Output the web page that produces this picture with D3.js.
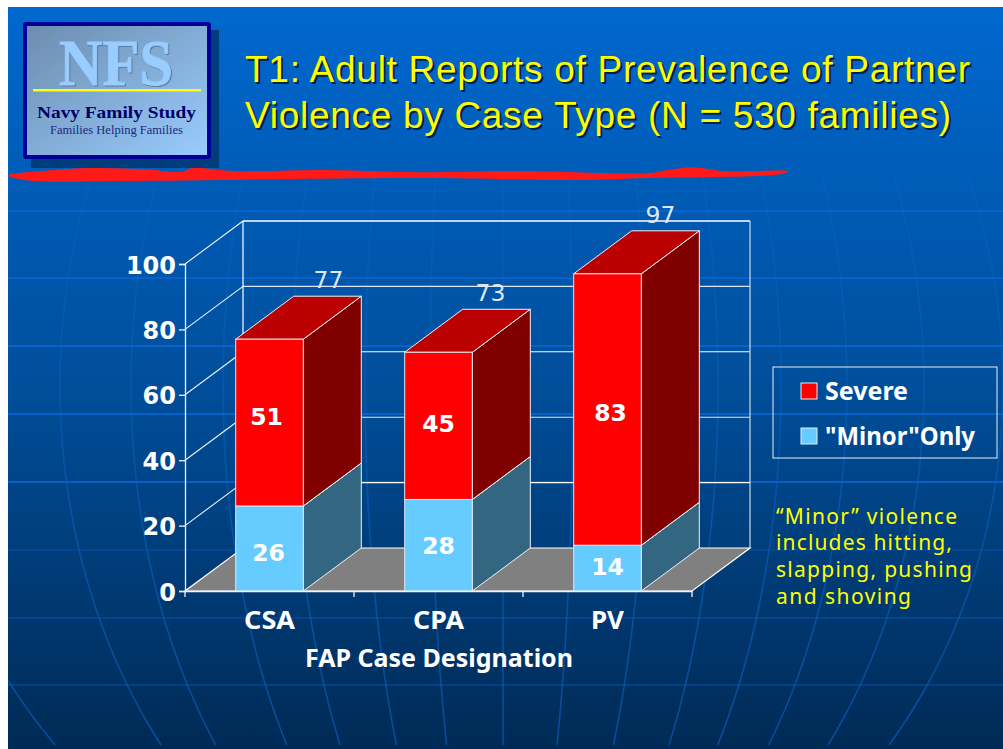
<!DOCTYPE html>
<html>
<head>
<meta charset="utf-8">
<script src="https://cdn.jsdelivr.net/npm/d3@7"></script>
<style>
html,body{margin:0;padding:0;background:#fff;overflow:hidden}
svg{display:block}
</style>
</head>
<body>
<svg id="chart" width="1003" height="749"></svg>
<script>
const categories = ["CSA", "CPA", "PV"];
const minorOnly = [26, 28, 14];
const severe = [51, 45, 83];
const totals = [77, 73, 97];
const yTicks = [0, 20, 40, 60, 80, 100];
const legendLabels = ["Severe", "\"Minor\"Only"];
const titleLines = ["T1: Adult Reports of Prevalence of Partner", "Violence by Case Type (N = 530 families)"];
const noteLines = ["\u201CMinor\u201D violence", "includes hitting,", "slapping, pushing", "and shoving"];
const xTitle = "FAP Case Designation";

// hand placement of the data labels, as in the slide
const minorNudge = [[-1,4],[0,0],[0,-2]];
const severeNudge = [[-3,-7],[0,-3],[3,2]];
const totalNudge = [1,-6,-5];

// decorative globe in the slide background
const latitudes = [211, 278, 346, 414, 482, 550, 618, 685];
const latOpacity = [0.9, 0.9, 1, 1, 1, 0.3, 0.4, 0.4];
const meridians = [-580, -443, -372, -280, -211, -138, -73, 0, 70, 143, 215, 278, 344, 421, 500];
const brushTop = [[9,174],[30,172],[88,168],[147,169.5],[182,171.7],[192,168],[233,171],[328,170],[422,172.3],[516,171],[649,173],[668,170],[693,167.3],[722,171],[789,171.3]];
const brushBottom = [[782,174],[649,178],[575,180],[427,178],[294,179],[123,181],[33,181],[9,177]];

const svg = d3.select("#chart");
const defs = svg.append("defs");

const bg = defs.append("linearGradient").attr("id","bg").attr("x1",0).attr("y1",0).attr("x2",0).attr("y2",1);
bg.append("stop").attr("offset",0).attr("stop-color","#0068cf");
bg.append("stop").attr("offset",0.5).attr("stop-color","#004f9c");
bg.append("stop").attr("offset",1).attr("stop-color","#002a55");
const lg = defs.append("linearGradient").attr("id","logo").attr("x1",0).attr("y1",0).attr("x2",1).attr("y2",1);
lg.append("stop").attr("offset",0).attr("stop-color","#6c8cad");
lg.append("stop").attr("offset",1).attr("stop-color","#99ccff");
const mg = defs.append("linearGradient").attr("id","mer").attr("gradientUnits","userSpaceOnUse")
  .attr("x1",0).attr("y1",175).attr("x2",0).attr("y2",749);
mg.append("stop").attr("offset",0).attr("stop-color","#0a6ad0").attr("stop-opacity",0.25);
mg.append("stop").attr("offset",0.6).attr("stop-color","#0a62c0").attr("stop-opacity",0.55);
mg.append("stop").attr("offset",1).attr("stop-color","#0a62c0").attr("stop-opacity",0.6);
defs.append("clipPath").attr("id","slide").append("rect").attr("x",8).attr("y",7).attr("width",995).attr("height",742);

// slide background
const back = svg.append("g").attr("clip-path","url(#slide)");
back.append("rect").attr("x",8).attr("y",7).attr("width",995).attr("height",742).attr("fill","url(#bg)");
back.selectAll("line.lat").data(latitudes).join("line")
  .attr("x1",8).attr("x2",1003).attr("y1",d=>d).attr("y2",d=>d)
  .attr("stroke","#0a6ad8").attr("stroke-width",1.4).attr("opacity",(d,i)=>latOpacity[i]);
const cy = 386, by = 565, cx = 503;
const meridianLine = d3.line().curve(d3.curveBasis);
const ySamples = d3.range(175, 760, 15);
back.selectAll("path.mer").data(meridians).join("path")
  .attr("fill","none").attr("stroke","url(#mer)").attr("stroke-width",1.6)
  .attr("d",a=>meridianLine(ySamples.map(v=>[cx+a*Math.sqrt(1-Math.pow((v-cy)/by,2)),v])));

// red brush stroke
back.append("path").attr("fill","#ff1a1a")
  .attr("d",d3.line().curve(d3.curveCatmullRom)(brushTop.concat(brushBottom))+"Z");

// logo
const logo = svg.append("g");
logo.append("rect").attr("x",31).attr("y",30).attr("width",188).attr("height",138).attr("fill","#003d7a");
logo.append("rect").attr("x",25).attr("y",24).attr("width",184).attr("height",133).attr("rx",1)
  .attr("fill","url(#logo)").attr("stroke","#000099").attr("stroke-width",4);
const serif = "'Liberation Serif',serif";
logo.append("text").attr("x",117).attr("y",86).attr("text-anchor","middle").attr("font-family",serif)
  .attr("font-weight","bold").attr("font-size",65).attr("fill","#5a7aa0").attr("stroke","#5a7aa0").attr("stroke-width",0.8).text("NFS")
  .attr("textLength",114).attr("lengthAdjust","spacingAndGlyphs");
logo.append("text").attr("x",116).attr("y",85).attr("text-anchor","middle").attr("font-family",serif)
  .attr("font-weight","bold").attr("font-size",65).attr("fill","#99ccff").attr("stroke","#99ccff").attr("stroke-width",0.8).text("NFS")
  .attr("textLength",114).attr("lengthAdjust","spacingAndGlyphs");
logo.append("rect").attr("x",33).attr("y",89).attr("width",168).attr("height",2.5).attr("fill","#ffff00");
logo.append("text").attr("x",116.5).attr("y",118).attr("text-anchor","middle").attr("font-family",serif)
  .attr("font-weight","bold").attr("font-size",17).attr("fill","#000066").text("Navy Family Study")
  .attr("textLength",159).attr("lengthAdjust","spacingAndGlyphs");
logo.append("text").attr("x",116.5).attr("y",134).attr("text-anchor","middle").attr("font-family",serif)
  .attr("font-size",12.5).attr("fill","#1a2a80").text("Families Helping Families")
  .attr("textLength",133).attr("lengthAdjust","spacingAndGlyphs");

// title
const titleFont = "'Liberation Sans',sans-serif";
const noteFont = "'Noto Sans',sans-serif";
const titleWidths = [725, 706];
const titleBase = [82, 128];
titleLines.forEach((t,i)=>{
  [["#00224d",2,2],["#ffff00",0,0]].forEach(([c,dx,dy])=>{
    svg.append("text").attr("x",245+dx).attr("y",titleBase[i]+dy)
      .attr("font-family",titleFont).attr("font-size",37).attr("fill",c).text(t)
      .attr("textLength",titleWidths[i]).attr("lengthAdjust","spacing");
  });
});

// chart scales
const x = d3.scaleBand().domain(categories).range([185,692]).paddingInner(0.6).paddingOuter(0.3);
const y = d3.scaleLinear().domain([0,100]).range([591,264]);
const depthX = 58, depthY = -43;
const ink = "#eef3fa";
const pts = a => a.map(p=>p.join(",")).join(" ");
const chartFont = "'DejaVu Sans',sans-serif";
const labelFont = "'Noto Sans',sans-serif";
const plot = svg.append("g");

// walls
const leftX = x.range()[0], rightX = x.range()[1];
plot.selectAll("line.grid").data(yTicks.slice(1)).join("line")
  .attr("x1",leftX+depthX).attr("x2",rightX+depthX)
  .attr("y1",d=>y(d)+depthY).attr("y2",d=>y(d)+depthY)
  .attr("stroke",(d,i)=>i%2?"#dfe8f2":"#fff").attr("stroke-width",d=>d===100?1.6:1.1);
plot.selectAll("line.diag").data(yTicks.slice(1)).join("line")
  .attr("x1",leftX).attr("x2",leftX+depthX)
  .attr("y1",d=>y(d)).attr("y2",d=>y(d)+depthY)
  .attr("stroke",ink).attr("stroke-width",1.1);
[leftX+depthX, rightX+depthX].forEach((vx,i)=>{
  plot.append("line").attr("x1",vx).attr("x2",vx).attr("y1",y(100)+depthY).attr("y2",y(0)+depthY)
    .attr("stroke",i?"#cfdbea":"#fff").attr("stroke-width",1.2);
});

// floor
plot.append("polygon")
  .attr("points",pts([[leftX,y(0)],[rightX,y(0)],[rightX+depthX,y(0)+depthY],[leftX+depthX,y(0)+depthY]]))
  .attr("fill","#808080").attr("stroke","#fff").attr("stroke-width",1.2);

// 3D stacked bars
function box(g, x0, w, v0, v1, front, side, top){
  const x1 = x0+w, y0 = y(v0), y1 = y(v1);
  g.append("polygon").attr("points",pts([[x1,y0],[x1+depthX,y0+depthY],[x1+depthX,y1+depthY],[x1,y1]]))
    .attr("fill",side).attr("stroke",ink).attr("stroke-width",1);
  g.append("polygon").attr("points",pts([[x0,y1],[x1,y1],[x1+depthX,y1+depthY],[x0+depthX,y1+depthY]]))
    .attr("fill",top).attr("stroke",ink).attr("stroke-width",1);
  g.append("rect").attr("x",x0).attr("y",y1).attr("width",w).attr("height",y0-y1)
    .attr("fill",front).attr("stroke","#dfe6ee").attr("stroke-width",1);
}
categories.forEach((c,i)=>{
  const g = plot.append("g");
  box(g, x(c), x.bandwidth(), 0, minorOnly[i], "#66ccff", "#336680", "#4d99bf");
  box(g, x(c), x.bandwidth(), minorOnly[i], totals[i], "#ff0000", "#800000", "#bb0000");
  const cxx = x(c)+x.bandwidth()/2;
  [[minorOnly[i],0,minorNudge[i]],[severe[i],minorOnly[i],severeNudge[i]]].forEach(([v,b,n])=>{
    g.append("text").attr("x",cxx+n[0]).attr("y",(y(b)+y(b+v))/2+9+n[1])
      .attr("text-anchor","middle").attr("font-family",chartFont).attr("font-weight","bold")
      .attr("font-size",23.5).attr("fill","#fff").text(v);
  });
  g.append("text").attr("x",cxx+depthX+totalNudge[i]).attr("y",y(totals[i])+depthY-8)
    .attr("text-anchor","middle").attr("font-family",chartFont)
    .attr("font-size",23.5).attr("fill","#dce8f5").text(totals[i]);
});

// axes
const yAxis = d3.axisLeft(y).tickValues(yTicks).tickSize(6).tickPadding(3);
const gy = svg.append("g").attr("transform",`translate(${leftX},0)`).call(yAxis);
gy.selectAll("path,line").attr("stroke","#eef3fa").attr("stroke-width",1.3);
gy.selectAll("text").attr("font-family",chartFont).attr("font-weight","bold").attr("font-size",24).attr("fill","#fff").attr("dy","0.38em");

const xAxis = d3.axisBottom(x).tickSize(0).tickPadding(20);
const gx = svg.append("g").attr("transform",`translate(0,${y(0)})`).call(xAxis);
gx.select("path").attr("stroke","#eef3fa").attr("stroke-width",1.3);
gx.selectAll("text").attr("font-family",labelFont).attr("font-weight","bold").attr("font-size",25).attr("fill","#fff")
  .attr("textLength",d=>d==="PV"?33:51).attr("lengthAdjust","spacingAndGlyphs");
gx.selectAll("line.bound").data(d3.range(categories.length+1)).join("line").attr("class","bound")
  .attr("x1",i=>leftX+i*x.step()).attr("x2",i=>leftX+i*x.step())
  .attr("y1",0).attr("y2",6).attr("stroke","#eef3fa").attr("stroke-width",1.3);
svg.append("text").attr("x",439).attr("y",667).attr("text-anchor","middle")
  .attr("font-family",labelFont).attr("font-weight","bold").attr("font-size",24.5).attr("fill","#fff")
  .text(xTitle).attr("textLength",268).attr("lengthAdjust","spacingAndGlyphs");

// legend
const legend = svg.append("g");
legend.append("rect").attr("x",773).attr("y",367).attr("width",224).attr("height",91)
  .attr("fill","none").attr("stroke","#d5dfec").attr("stroke-width",1.1);
const legendColors = ["#ff0000","#66ccff"];
const legendY = [383,428];
const legendW = [83,150];
legendLabels.forEach((t,i)=>{
  legend.append("rect").attr("x",801).attr("y",legendY[i]).attr("width",16).attr("height",16)
    .attr("fill",legendColors[i]).attr("stroke","#e6edf5").attr("stroke-width",1);
  legend.append("text").attr("x",825).attr("y",legendY[i]+17)
    .attr("font-family",labelFont).attr("font-weight","bold").attr("font-size",24.5).attr("fill","#fff")
    .text(t).attr("textLength",legendW[i]).attr("lengthAdjust","spacingAndGlyphs");
});

// note
const noteBase = [524,550,577,604];
const noteW = [181,176,196,135];
noteLines.forEach((t,i)=>{
  svg.append("text").attr("x",776).attr("y",noteBase[i])
    .attr("font-family",noteFont).attr("font-size",21).attr("fill","#ffff00")
    .text(t).attr("textLength",noteW[i]).attr("lengthAdjust","spacing");
});
</script>
</body>
</html>
